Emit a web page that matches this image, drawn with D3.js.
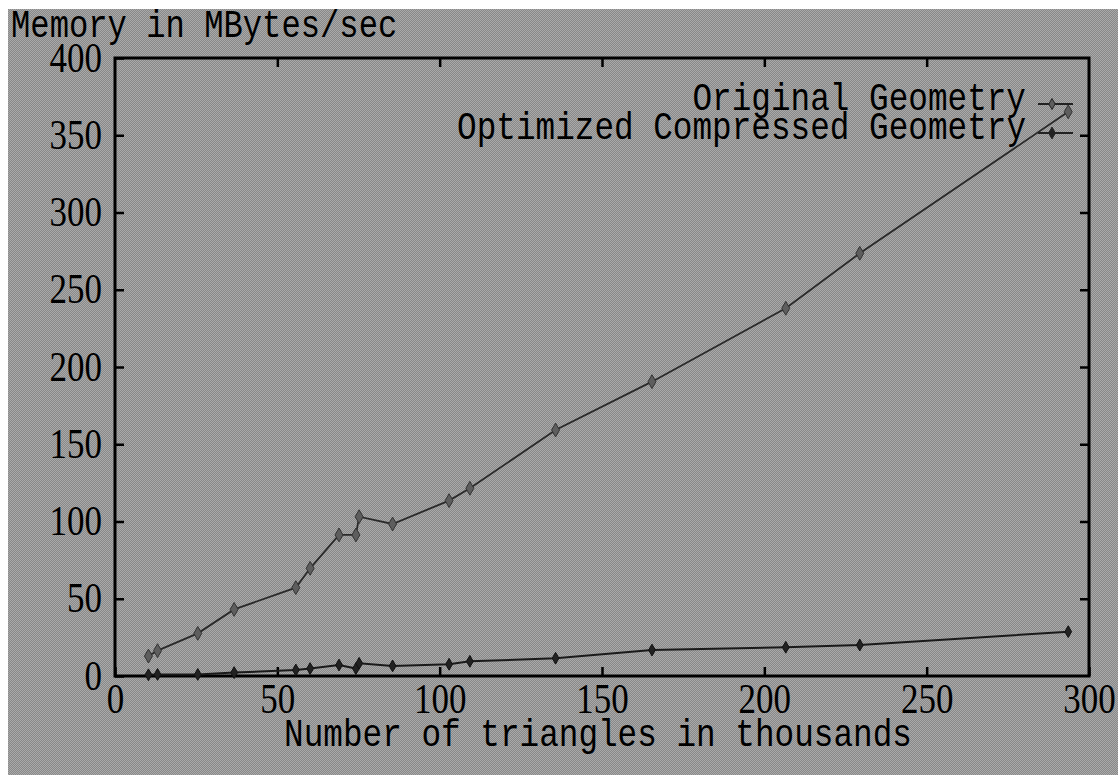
<!DOCTYPE html>
<html>
<head>
<meta charset="utf-8">
<script src="https://cdn.jsdelivr.net/npm/d3@7"></script>
<style>
  html, body { margin: 0; padding: 0; background: #ffffff; }
  svg { display: block; }
</style>
</head>
<body>
<svg id="chart" width="1118" height="779"></svg>
<script>
// ---- data ----
const triangles = [10.3, 13.1, 25.5, 36.7, 55.7, 60.1, 69.0, 74.2, 75.2, 85.5, 102.9, 109.3, 135.7, 165.4, 206.6, 229.4, 293.6];
const originalGeometry = [12.9, 16.4, 27.6, 43.1, 57.2, 69.7, 91.3, 91.3, 103.1, 98.4, 113.5, 121.5, 159.2, 190.5, 238.0, 273.6, 365.2];
const compressedGeometry = [0.8, 1.0, 1.0, 2.2, 3.9, 4.8, 7.1, 4.8, 8.2, 6.5, 7.6, 9.5, 11.5, 16.8, 18.6, 20.0, 28.7];
const xTicks = [0, 50, 100, 150, 200, 250, 300];
const yTicks = [0, 50, 100, 150, 200, 250, 300, 350, 400];
const seriesNames = ["Original Geometry", "Optimized Compressed Geometry"];
const yTitle = "Memory in MBytes/sec";
const xTitle = "Number of triangles in thousands";

(function () {
const svg = d3.select("#chart");
const W = 1118, H = 779;
const mLeft = 115, mRight = 1089, mTop = 58, mBottom = 676;

// background with dither-like texture
const defs = svg.append("defs");
const pat = defs.append("pattern").attr("id", "dither")
  .attr("width", 2).attr("height", 2).attr("patternUnits", "userSpaceOnUse");
pat.append("rect").attr("width", 2).attr("height", 2).attr("fill", "#888888");
pat.append("rect").attr("width", 1).attr("height", 1).attr("fill", "#aaaaaa");
pat.append("rect").attr("x", 1).attr("y", 1).attr("width", 1).attr("height", 1).attr("fill", "#aaaaaa");

svg.append("rect").attr("width", W).attr("height", H).attr("fill", "#ffffff");
svg.append("rect").attr("x", 8).attr("y", 9).attr("width", W - 8).attr("height", H - 13).attr("fill", "url(#dither)");

const x = d3.scaleLinear().domain([0, 300]).range([mLeft, mRight]);
const y = d3.scaleLinear().domain([0, 400]).range([mBottom, mTop]);

const tickFont = "'Liberation Serif', serif";
const monoFont = "'Liberation Mono', monospace";

function styleAxis(g) {
  g.select(".domain").remove();
  g.selectAll(".tick line").attr("stroke", "#000").attr("stroke-width", 2.5);
}

// bottom axis
const gx = svg.append("g").attr("transform", `translate(0,${mBottom})`)
  .call(d3.axisBottom(x).tickValues(xTicks).tickSize(-9).tickPadding(0).tickFormat(d3.format("d")));
styleAxis(gx);
gx.selectAll(".tick text")
  .attr("font-family", tickFont).attr("font-size", 35).attr("fill", "#000")
  .attr("y", 0).attr("dy", 0)
  .attr("transform", "translate(0,37) scale(1,1.2)");

// top ticks
const gxt = svg.append("g").attr("transform", `translate(0,${mTop})`)
  .call(d3.axisTop(x).tickValues(xTicks.slice(1, -1)).tickSize(-9).tickFormat(""));
styleAxis(gxt);

// left axis
const gy = svg.append("g").attr("transform", `translate(${mLeft},0)`)
  .call(d3.axisLeft(y).tickValues(yTicks).tickSize(-9).tickPadding(13).tickFormat(d3.format("d")));
styleAxis(gy);
gy.selectAll(".tick text")
  .attr("font-family", tickFont).attr("font-size", 35).attr("fill", "#000")
  .attr("dy", 0).attr("y", 0)
  .attr("transform", "translate(0,13) scale(1,1.2)");

// right ticks
const gyr = svg.append("g").attr("transform", `translate(${mRight},0)`)
  .call(d3.axisRight(y).tickValues(yTicks.slice(1, -1)).tickSize(-9).tickFormat(""));
styleAxis(gyr);

// frame
svg.append("rect").attr("x", mLeft).attr("y", mTop)
  .attr("width", mRight - mLeft).attr("height", mBottom - mTop)
  .attr("fill", "none").attr("stroke", "#000").attr("stroke-width", 3);

// lines
const line = d3.line().x(d => x(d[0])).y(d => y(d[1]));
const origData = triangles.map((t, i) => [t, originalGeometry[i]]);
const compData = triangles.map((t, i) => [t, compressedGeometry[i]]);

svg.append("path").datum(origData).attr("d", line)
  .attr("fill", "none").attr("stroke", "#2a2a2a").attr("stroke-width", 1.8);
svg.append("path").datum(compData).attr("d", line)
  .attr("fill", "none").attr("stroke", "#1a1a1a").attr("stroke-width", 2);

const diamond = d3.symbol().type(d3.symbolDiamond);
svg.append("g").selectAll("path").data(origData).join("path")
  .attr("transform", d => `translate(${x(d[0])},${y(d[1])})`)
  .attr("d", diamond.size(55))
  .attr("fill", "#5e5e5e").attr("stroke", "#333").attr("stroke-width", 1);
svg.append("g").selectAll("path").data(compData).join("path")
  .attr("transform", d => `translate(${x(d[0])},${y(d[1])})`)
  .attr("d", diamond.size(40))
  .attr("fill", "#222").attr("stroke", "#111").attr("stroke-width", 1);

// legend
const legendY = [104, 133];
const legendText = [110, 139];
seriesNames.forEach((name, i) => {
  svg.append("text")
    .attr("transform", `translate(1026,${legendText[i]}) scale(1,1.2)`)
    .attr("text-anchor", "end").attr("font-family", monoFont).attr("font-size", 32.7)
    .attr("fill", "#000").text(name);
  svg.append("line").attr("x1", 1038).attr("x2", 1073)
    .attr("y1", legendY[i]).attr("y2", legendY[i])
    .attr("stroke", "#222").attr("stroke-width", 1.8);
  svg.append("path").attr("transform", `translate(1052,${legendY[i]})`)
    .attr("d", diamond.size(i === 0 ? 35 : 40))
    .attr("fill", i === 0 ? "#5e5e5e" : "#222").attr("stroke", "#222");
});

// axis titles
svg.append("text")
  .attr("transform", "translate(11,37) scale(1,1.2)")
  .attr("font-family", monoFont).attr("font-size", 32.2).attr("fill", "#000")
  .text(yTitle);
svg.append("text")
  .attr("transform", "translate(598,746) scale(1,1.2)")
  .attr("text-anchor", "middle").attr("font-family", monoFont).attr("font-size", 32.7).attr("fill", "#000")
  .text(xTitle);
})();
</script>
</body>
</html>
